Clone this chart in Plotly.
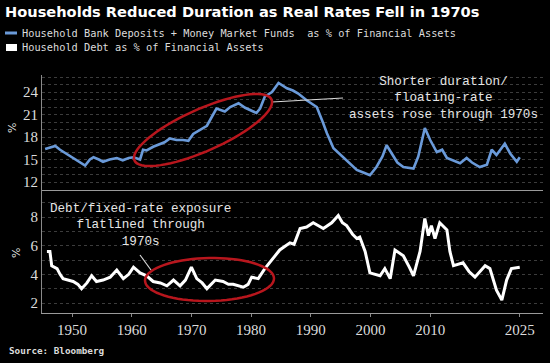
import math
import plotly.graph_objects as go

# ---------------- data ----------------
deposit_years = [1945.5, 1946.5, 1947.2, 1948, 1949, 1949.7, 1951, 1952.2, 1953, 1953.6, 1954.5,
                 1955.2, 1956.3, 1957.5, 1958.5, 1959.5, 1960.3, 1961.4, 1961.9, 1962.5, 1963.6,
                 1964.5, 1965.5, 1966.4, 1967.5, 1968.6, 1969.5, 1970.3, 1971.4, 1972.6, 1973.5,
                 1974.2, 1975.6, 1976.5, 1977.9, 1979, 1980.9, 1981.5, 1982.3, 1983.5, 1984.6,
                 1986, 1987, 1987.9, 1989.3, 1991, 1992, 1992.7, 1993.8, 1995, 1996, 1997.7,
                 1999, 1999.9, 2001, 2002, 2002.7, 2003.8, 2004.5, 2005.5, 2007.2, 2008, 2009.1,
                 2010, 2011.1, 2012, 2012.8, 2015, 2016.1, 2017, 2018.3, 2019.5, 2020.3, 2021.1,
                 2022.5, 2023.4, 2024.5, 2025]
deposit_pct = [16.4, 16.6, 16.8, 16.3, 15.8, 15.4, 14.8, 14.2, 15.0, 15.3, 15.0,
               14.7, 15.0, 15.2, 14.9, 15.2, 15.3, 15.0, 16.3, 16.2, 16.7,
               17.0, 17.3, 17.8, 17.6, 17.6, 17.5, 18.4, 18.9, 19.5, 20.8,
               21.8, 21.4, 22.0, 22.5, 21.9, 21.2, 21.8, 23.4, 24.0, 25.2,
               24.5, 24.2, 23.8, 22.9, 22.0, 20.0, 18.5, 16.5, 15.6, 14.9, 13.6,
               13.2, 12.9, 14.0, 15.4, 16.9, 15.4, 14.6, 14.0, 13.8, 15.4, 19.2,
               17.6, 16.0, 16.3, 15.2, 14.5, 15.2, 14.6, 14.0, 14.3, 16.3, 15.6,
               17.1, 15.8, 14.7, 15.3]

debt_years = [1945.8, 1946.3, 1946.6, 1947.5, 1948, 1948.5, 1950.2, 1951, 1951.6, 1952.5, 1953.3,
              1954.1, 1955.2, 1956.4, 1957.5, 1958.6, 1959.5, 1960.3, 1961.4, 1962.5, 1963.6,
              1964.8, 1965.9, 1967, 1968.1, 1969, 1970, 1970.9, 1971.8, 1972.6, 1974, 1975.3,
              1976.2, 1977, 1978.7, 1979.5, 1980.1, 1981.2, 1982.3, 1983.5, 1984.8, 1986.5,
              1987.2, 1988.2, 1989.3, 1990.4, 1992.1, 1993.5, 1994.6, 1995.3, 1996, 1997,
              1997.7, 1998.2, 1998.8, 1999.1, 1999.9, 2001, 2001.6, 2002.4, 2003.3, 2004.1,
              2005.5, 2006.5, 2007.2, 2008.3, 2009.1, 2009.7, 2010.2, 2010.8, 2011.6, 2012.8,
              2013.3, 2013.9, 2015.5, 2016.5, 2017.5, 2019.2, 2020, 2021.1, 2022, 2022.8,
              2023.6, 2025]
debt_pct = [5.6, 5.6, 4.6, 4.4, 4.0, 3.7, 3.5, 3.3, 3.0, 3.4, 3.9,
            3.5, 3.6, 3.8, 4.3, 3.7, 4.0, 4.5, 4.1, 3.9, 3.5,
            3.4, 3.2, 3.6, 3.2, 3.6, 4.5, 3.7, 3.4, 3.0, 3.6, 3.5,
            3.3, 3.3, 3.1, 3.3, 3.8, 3.7, 4.4, 5.0, 5.7, 6.2,
            6.1, 7.2, 7.3, 7.6, 7.2, 7.6, 8.1, 7.6, 7.4, 6.8,
            6.5, 6.6, 5.9, 5.6, 4.1, 4.0, 3.9, 4.4, 3.7, 5.7,
            5.3, 4.5, 3.9, 5.6, 7.9, 6.7, 7.4, 6.5, 7.6, 7.1,
            5.6, 4.6, 4.8, 4.2, 3.8, 4.6, 4.4, 2.9, 2.2, 3.6,
            4.4, 4.5]

x_tickvals = [1950, 1960, 1970, 1980, 1990, 2000, 2010, 2025]
x_ticktext = ["1950", "1960", "1970", "1980", "1990", "2000", "2010", "2025"]

title_text = "Households Reduced Duration as Real Rates Fell in 1970s"
legend_names = ["Household Bank Deposits + Money Market Funds  as % of Financial Assets",
                "Household Debt as % of Financial Assets"]

# ---------------- layout geometry (pixels) ----------------
W, H = 550, 363
PL, PR, PT, PB = 42, 543, 75, 313   # plot area edges
SPLIT = 190                          # boundary between panels


def px2paper(px, py):
    return (px - PL) / (PR - PL), (PB - py) / (PB - PT)


def ellipse_path(cx, cy, a, b, deg, n=72):
    th = math.radians(deg)
    pts = []
    for i in range(n + 1):
        t = 2 * math.pi * i / n
        x = cx + a * math.cos(t) * math.cos(th) - b * math.sin(t) * math.sin(th)
        y = cy - (a * math.cos(t) * math.sin(th) + b * math.sin(t) * math.cos(th))
        pts.append(px2paper(x, y))
    return "M " + " L ".join(f"{x:.4f},{y:.4f}" for x, y in pts) + " Z"


BG = "#000000"
BLUE = "#6a9ad9"
GRID = "#3c3c3c"
AXIS = "#8a8a8a"
TXT = "#dcdcdc"
RED = "#b8161d"

split_frac = (PB - SPLIT) / (PB - PT)

fig = go.Figure()
fig.add_trace(go.Scatter(x=deposit_years, y=deposit_pct, mode="lines",
                         line=dict(color=BLUE, width=2.6), name=legend_names[0],
                         xaxis="x", yaxis="y", showlegend=False))
fig.add_trace(go.Scatter(x=debt_years, y=debt_pct, mode="lines",
                         line=dict(color="#ffffff", width=3), name=legend_names[1],
                         xaxis="x2", yaxis="y2", showlegend=False))

tick_font = dict(family="Liberation Serif", size=15, color=TXT)
xrange_ = [1950 + (PL - 72) / 5.97, 1950 + (PR - 72) / 5.97]

fig.update_layout(
    width=W, height=H,
    paper_bgcolor=BG, plot_bgcolor=BG,
    margin=dict(l=PL, r=W - PR, t=PT, b=H - PB, pad=0),
    title=dict(text="<b>" + title_text + "</b>", x=5 / W, xanchor="left",
               y=1 - 12 / H, yanchor="middle",
               font=dict(family="DejaVu Sans", size=14.6, color="#ffffff")),
    xaxis=dict(domain=[0, 1], anchor="y", range=xrange_, showgrid=False,
               showticklabels=False, ticks="", showline=True, linecolor="#9a9a9a",
               linewidth=1, zeroline=False),
    yaxis=dict(domain=[split_frac, 1], anchor="x", range=[12 - 8 / 7.5, 24 + 17 / 7.5],
               tickvals=[12, 15, 18, 21, 24], tickfont=tick_font, ticks="",
               showgrid=True, gridcolor=GRID, griddash="dot", gridwidth=1,
               minor=dict(dtick=1, tick0=0, showgrid=True, gridcolor=GRID, griddash="dot"),
               showline=True, linecolor=AXIS, linewidth=1, zeroline=False),
    xaxis2=dict(domain=[0, 1], anchor="y2", range=xrange_, matches="x", showgrid=False,
                tickvals=x_tickvals, ticktext=x_ticktext, tickfont=tick_font,
                ticks="outside", ticklen=3, tickcolor=AXIS,
                showline=True, linecolor="#9a9a9a", linewidth=1, zeroline=False),
    yaxis2=dict(domain=[0, split_frac], anchor="x2", range=[2 - 10 / 14.33, 8 + 27 / 14.33],
                tickvals=[2, 4, 6, 8], tickfont=tick_font, ticks="",
                showgrid=True, gridcolor=GRID, griddash="dot", gridwidth=1,
                minor=dict(dtick=1, tick0=0, showgrid=True, gridcolor=GRID, griddash="dot"),
                showline=True, linecolor=AXIS, linewidth=1, zeroline=False),
    showlegend=False,
)

shapes = []
# legend markers
lx0, ly0 = px2paper(5, 33)
lx1, _ = px2paper(17, 33)
shapes.append(dict(type="line", xref="paper", yref="paper", x0=lx0, x1=lx1, y0=ly0, y1=ly0,
                   line=dict(color=BLUE, width=3)))
bx0, by0 = px2paper(6, 51)
bx1, by1 = px2paper(17, 44)
shapes.append(dict(type="rect", xref="paper", yref="paper", x0=bx0, x1=bx1, y0=by0, y1=by1,
                   fillcolor="#ffffff", line=dict(width=0)))
# callout lines
a0 = px2paper(272, 102); a1 = px2paper(343, 98)
shapes.append(dict(type="line", xref="paper", yref="paper", x0=a0[0], y0=a0[1], x1=a1[0], y1=a1[1],
                   line=dict(color="#d8d8d8", width=1.2)))
b0 = px2paper(140, 255); b1 = px2paper(151, 270)
shapes.append(dict(type="line", xref="paper", yref="paper", x0=b0[0], y0=b0[1], x1=b1[0], y1=b1[1],
                   line=dict(color="#d8d8d8", width=1.2)))
# red ellipses
shapes.append(dict(type="path", xref="paper", yref="paper",
                   path=ellipse_path(203, 130, 75, 21, 24), line=dict(color=RED, width=2.5)))
shapes.append(dict(type="path", xref="paper", yref="paper",
                   path=ellipse_path(209.5, 279.5, 64.5, 21.5, 1), line=dict(color=RED, width=2.5)))
fig.update_layout(shapes=shapes)

annotations = []
leg_font = dict(family="DejaVu Sans Mono", size=10.3, color=TXT)
for name, py in zip(legend_names, [33, 47]):
    x, y = px2paper(20, py)
    annotations.append(dict(text=name, xref="paper", yref="paper", x=x, y=y,
                            xanchor="left", yanchor="middle", showarrow=False, font=leg_font))
note_font = dict(family="Liberation Mono", size=12.6, color="#e6e6e6")
x, y = px2paper(443, 98)
annotations.append(dict(text="Shorter duration/<br>floating-rate<br>assets rose through 1970s",
                        xref="paper", yref="paper", x=x, y=y, xanchor="center", yanchor="middle",
                        align="center", showarrow=False, font=note_font))
x, y = px2paper(140, 225)
annotations.append(dict(text="Debt/fixed-rate exposure<br>flatlined through<br>1970s",
                        xref="paper", yref="paper", x=x, y=y, xanchor="center", yanchor="middle",
                        align="center", showarrow=False, font=note_font))
for px_, py_ in [(12, 128), (16, 253)]:
    x, y = px2paper(px_, py_)
    annotations.append(dict(text="%", xref="paper", yref="paper", x=x, y=y, textangle=-90,
                            xanchor="center", yanchor="middle", showarrow=False,
                            font=dict(family="DejaVu Sans", size=11, color=TXT)))
x, y = px2paper(7, 351)
annotations.append(dict(text="<b>Source: Bloomberg</b>", xref="paper", yref="paper", x=x, y=y,
                        xanchor="left", yanchor="middle", showarrow=False,
                        font=dict(family="DejaVu Sans Mono", size=9.3, color=TXT)))
fig.update_layout(annotations=annotations)

fig.write_html("out.html",
               config={"displayModeBar": False},
               post_script="document.body.style.margin='0px';document.body.style.background='#000';")
